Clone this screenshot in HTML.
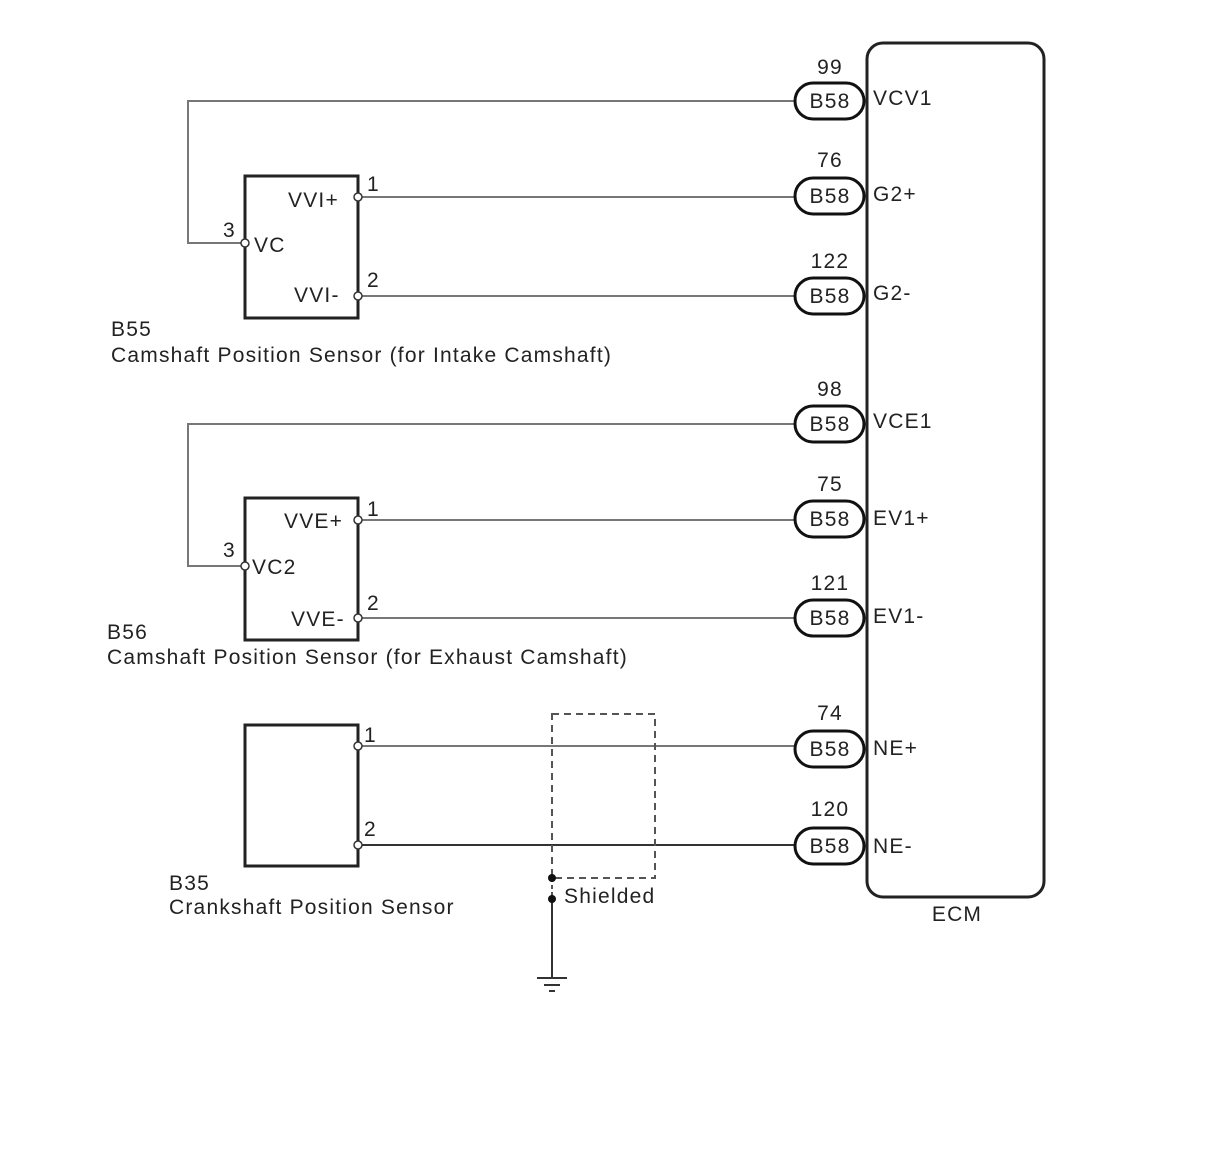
<!DOCTYPE html>
<html><head><meta charset="utf-8"><style>
html,body{margin:0;padding:0;background:#fff;}
svg{display:block;}
text{font-family:"Liberation Sans",Arial,sans-serif;font-size:21px;letter-spacing:1.2px;fill:#222;}
</style></head><body>
<svg width="1210" height="1156" viewBox="0 0 1210 1156" xmlns="http://www.w3.org/2000/svg">
<g stroke="#777" stroke-width="2" fill="none">
<polyline points="245,243 188,243 188,101 795,101"/>
<line x1="358" y1="197" x2="795" y2="197"/>
<line x1="358" y1="296" x2="795" y2="296"/>
<polyline points="245,566 188,566 188,424 795,424"/>
<line x1="358" y1="520" x2="795" y2="520"/>
<line x1="358" y1="618" x2="795" y2="618"/>
<line x1="358" y1="746" x2="795" y2="746"/>
<line x1="358" y1="845" x2="795" y2="845" stroke="#333"/>
</g>
<g stroke="#222" stroke-width="3" fill="none">
<rect x="245" y="176" width="113" height="142"/>
<rect x="245" y="498" width="113" height="142"/>
<rect x="245" y="725" width="113" height="141"/>
<rect x="867" y="43" width="177" height="854" rx="16"/>
</g>
<g stroke="#111" stroke-width="3" fill="#fff">
<rect x="795" y="83" width="69" height="36" rx="18"/>
<rect x="795" y="178" width="69" height="36" rx="18"/>
<rect x="795" y="278" width="69" height="36" rx="18"/>
<rect x="795" y="406" width="69" height="36" rx="18"/>
<rect x="795" y="501" width="69" height="36" rx="18"/>
<rect x="795" y="600" width="69" height="36" rx="18"/>
<rect x="795" y="731" width="69" height="36" rx="18"/>
<rect x="795" y="828" width="69" height="36" rx="18"/>
</g>
<g stroke="#333" stroke-width="1.5" fill="#fff">
<circle cx="358" cy="197" r="4"/><circle cx="358" cy="296" r="4"/><circle cx="245" cy="243" r="4"/>
<circle cx="358" cy="520" r="4"/><circle cx="358" cy="618" r="4"/><circle cx="245" cy="566" r="4"/>
<circle cx="358" cy="746" r="4"/><circle cx="358" cy="845" r="4"/>
</g>
<rect x="552" y="714" width="103" height="164" fill="none" stroke="#555" stroke-width="2" stroke-dasharray="7,5"/>
<line x1="552" y1="899" x2="552" y2="978" stroke="#333" stroke-width="2"/>
<line x1="552" y1="878" x2="552" y2="899" stroke="#555" stroke-width="2" stroke-dasharray="4,3"/>
<circle cx="552" cy="878" r="4" fill="#111"/><circle cx="552" cy="899" r="4" fill="#111"/>
<g stroke="#333" stroke-width="2">
<line x1="537" y1="978" x2="567" y2="978"/><line x1="544" y1="985" x2="560" y2="985"/><line x1="549" y1="991" x2="555" y2="991"/>
</g>
<g text-anchor="middle">
<text x="830" y="108">B58</text><text x="830" y="203">B58</text><text x="830" y="303">B58</text>
<text x="830" y="431">B58</text><text x="830" y="526">B58</text><text x="830" y="625">B58</text>
<text x="830" y="756">B58</text><text x="830" y="853">B58</text>
<text x="830" y="74">99</text><text x="830" y="167">76</text><text x="830" y="268">122</text>
<text x="830" y="396">98</text><text x="830" y="491">75</text><text x="830" y="590">121</text>
<text x="830" y="720">74</text><text x="830" y="816">120</text>
<text x="957" y="921">ECM</text>
</g>
<text x="873" y="105">VCV1</text><text x="873" y="201">G2+</text><text x="873" y="300">G2-</text>
<text x="873" y="428">VCE1</text><text x="873" y="525">EV1+</text><text x="873" y="623">EV1-</text>
<text x="873" y="755">NE+</text><text x="873" y="853">NE-</text>
<text x="288" y="207">VVI+</text><text x="294" y="302">VVI-</text><text x="254" y="252">VC</text>
<text x="367" y="191">1</text><text x="367" y="287">2</text><text x="223" y="237">3</text>
<text x="284" y="528">VVE+</text><text x="291" y="626">VVE-</text><text x="252" y="574">VC2</text>
<text x="367" y="516">1</text><text x="367" y="610">2</text><text x="223" y="557">3</text>
<text x="364" y="742">1</text><text x="364" y="836">2</text>
<text x="111" y="336">B55</text><text x="111" y="362">Camshaft Position Sensor (for Intake Camshaft)</text>
<text x="107" y="639">B56</text><text x="107" y="664">Camshaft Position Sensor (for Exhaust Camshaft)</text>
<text x="169" y="890">B35</text><text x="169" y="914">Crankshaft Position Sensor</text>
<text x="564" y="903">Shielded</text>
</svg>
</body></html>
